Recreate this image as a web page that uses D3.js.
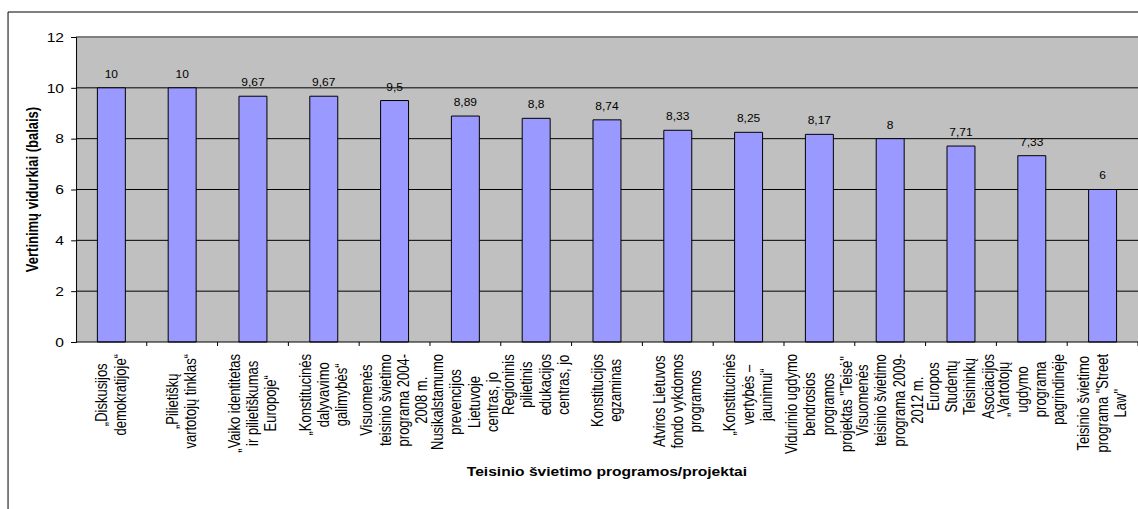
<!DOCTYPE html>
<html lang="lt">
<head>
  <meta charset="UTF-8">
  <title>Teisinio švietimo programos/projektai</title>
  <script src="https://d3js.org/d3.v7.min.js"></script>
  <style>
    body {
      margin: 0;
      background-color: #ffffff;
      overflow: hidden;
    }
    svg {
      display: block;
      font-family: 'Liberation Sans', Arial, sans-serif;
    }
    .grid line, .frame, .bar, .tick-line {
      vector-effect: non-scaling-stroke;
    }
  </style>
</head>
<body>
  <svg id="chart"></svg>

  <script>
    // Category labels, already split into lines the way the original wraps them
    const categories = [
      ["„Diskusijos", "demokratijoje“"],
      ["„Pilietiškų", "vartotojų tinklas“"],
      ["„Vaiko identitetas", "ir pilietiškumas", "Europoje“"],
      ["„Konstitucinės", "dalyvavimo", "galimybės“"],
      ["Visuomenės", "teisinio švietimo", "programa 2004-", "2008 m."],
      ["Nusikalstamumo", "prevencijos", "Lietuvoje", "centras, jo"],
      ["Regioninis", "pilietinis", "edukacijos", "centras, jo"],
      ["Konstitucijos", "egzaminas"],
      ["Atviros Lietuvos", "fondo vykdomos", "programos"],
      ["„Konstitucinės", "vertybės –", "jaunimui“"],
      ["Vidurinio ugdymo", "bendrosios", "programos", "projektas \"Teisė\""],
      ["Visuomenės", "teisinio švietimo", "programa 2009-", "2012 m."],
      ["Europos", "Studentų", "Teisininkų", "Asociacijos"],
      ["„Vartotojų", "ugdymo", "programa", "pagrindinėje"],
      ["Teisinio švietimo", "programa \"Street", "Law\""]
    ];

    const values = [10, 10, 9.67, 9.67, 9.5, 8.89, 8.8, 8.74, 8.33, 8.25, 8.17, 8, 7.71, 7.33, 6];

    const yTicks = [0, 2, 4, 6, 8, 10, 12];

    const yTitle = "Vertinimų vidurkiai (balais)";
    const xTitle = "Teisinio švietimo programos/projektai";

    // the picture is a horizontally stretched chart, so draw in a narrower
    // coordinate space and let the viewBox stretch it out
    const W = 1138, H = 509, stretch = 1.2;
    const vw = W / stretch;

    const svg = d3.select("#chart")
      .attr("width", W)
      .attr("height", H)
      .attr("viewBox", `0 0 ${vw} ${H}`)
      .attr("preserveAspectRatio", "none");

    const plot = { left: 63.3, right: vw, top: 37, bottom: 342 };

    const x = d3.scaleBand()
      .domain(d3.range(categories.length))
      .range([plot.left, plot.right])
      .paddingInner(0.605)
      .paddingOuter(0.3025);

    const y = d3.scaleLinear()
      .domain([0, 12])
      .range([plot.bottom, plot.top]);

    const fmt = v => String(v).replace(".", ",");

    // outer chart frame (right and bottom edges fall outside the picture)
    svg.append("rect")
      .attr("class", "frame")
      .attr("x", 6.7)
      .attr("y", 12)
      .attr("width", vw + 20)
      .attr("height", H + 20)
      .attr("fill", "#fff")
      .attr("stroke", "#000")
      .attr("stroke-width", 1);

    // plot background
    svg.append("rect")
      .attr("x", plot.left)
      .attr("y", plot.top)
      .attr("width", plot.right - plot.left)
      .attr("height", plot.bottom - plot.top)
      .attr("fill", "#c0c0c0");

    // gridlines
    svg.append("g")
      .attr("class", "grid")
      .selectAll("line")
      .data(yTicks.filter(t => t > 0 && t < 12))
      .enter().append("line")
      .attr("x1", plot.left)
      .attr("x2", plot.right)
      .attr("y1", d => y(d))
      .attr("y2", d => y(d))
      .attr("stroke", "#000")
      .attr("stroke-width", 1);

    // top border of plot area
    svg.append("line")
      .attr("class", "tick-line")
      .attr("x1", plot.left)
      .attr("x2", plot.right)
      .attr("y1", plot.top)
      .attr("y2", plot.top)
      .attr("stroke", "#808080")
      .attr("stroke-width", 2);

    // bars
    svg.append("g")
      .selectAll("rect")
      .data(values)
      .enter().append("rect")
      .attr("class", "bar")
      .attr("x", (d, i) => x(i))
      .attr("y", d => y(d))
      .attr("width", x.bandwidth())
      .attr("height", d => y(0) - y(d))
      .attr("fill", "#9999ff")
      .attr("stroke", "#000")
      .attr("stroke-width", 1);

    // value labels
    svg.append("g")
      .selectAll("text")
      .data(values)
      .enter().append("text")
      .attr("x", (d, i) => x(i) + x.bandwidth() / 2)
      .attr("y", d => y(d) - 10)
      .attr("text-anchor", "middle")
      .style("font-size", "10px")
      .attr("fill", "#000")
      .text(d => fmt(d));

    // y axis
    const yAxis = svg.append("g")
      .attr("transform", `translate(${plot.left},0)`)
      .call(d3.axisLeft(y).tickValues(yTicks).tickSize(4).tickPadding(6).tickFormat(d => d));
    yAxis.select(".domain").attr("stroke", "#000").attr("class", "domain tick-line");
    yAxis.selectAll(".tick line").attr("stroke", "#000").attr("class", "tick-line");
    yAxis.selectAll(".tick text")
      .style("font-size", "13px")
      .style("font-family", "'Liberation Sans', Arial, sans-serif")
      .attr("fill", "#000");

    // x axis line and ticks at category boundaries
    svg.append("line")
      .attr("class", "tick-line")
      .attr("x1", plot.left)
      .attr("x2", plot.right)
      .attr("y1", plot.bottom)
      .attr("y2", plot.bottom)
      .attr("stroke", "#000");

    svg.append("g")
      .selectAll("line")
      .data(d3.range(1, categories.length + 1))
      .enter().append("line")
      .attr("class", "tick-line")
      .attr("x1", i => plot.left + i * x.step())
      .attr("x2", i => plot.left + i * x.step())
      .attr("y1", plot.bottom)
      .attr("y2", plot.bottom + 4)
      .attr("stroke", "#000");

    // rotated, wrapped category labels
    const lineGap = 15.3, labelTop = 354;
    const labels = svg.append("g")
      .selectAll("g")
      .data(categories)
      .enter().append("g")
      .attr("transform", (d, i) => `translate(${x(i) + x.bandwidth() / 2},0) rotate(-90)`);

    labels.each(function(lines) {
      const g = d3.select(this);
      const texts = g.selectAll("text")
        .data(lines)
        .enter().append("text")
        .attr("text-anchor", "middle")
        .attr("dy", "0.33em")
        .attr("y", (d, k) => (k - (lines.length - 1) / 2) * lineGap)
        .style("font-size", "13px")
        .attr("fill", "#000")
        .text(d => d);
      let maxLen = 0;
      texts.each(function() { maxLen = Math.max(maxLen, this.getComputedTextLength()); });
      texts.attr("x", -(labelTop + maxLen / 2));
    });

    // axis titles
    svg.append("text")
      .attr("transform", `translate(27.5,${(plot.top + plot.bottom) / 2}) rotate(-90)`)
      .attr("text-anchor", "middle")
      .attr("dy", "0.35em")
      .style("font-size", "13px")
      .style("font-weight", "bold")
      .text(yTitle);

    svg.append("text")
      .attr("x", (plot.left + plot.right) / 2)
      .attr("y", 476)
      .attr("text-anchor", "middle")
      .style("font-size", "13px")
      .style("font-weight", "bold")
      .text(xTitle);
  </script>
</body>
</html>
